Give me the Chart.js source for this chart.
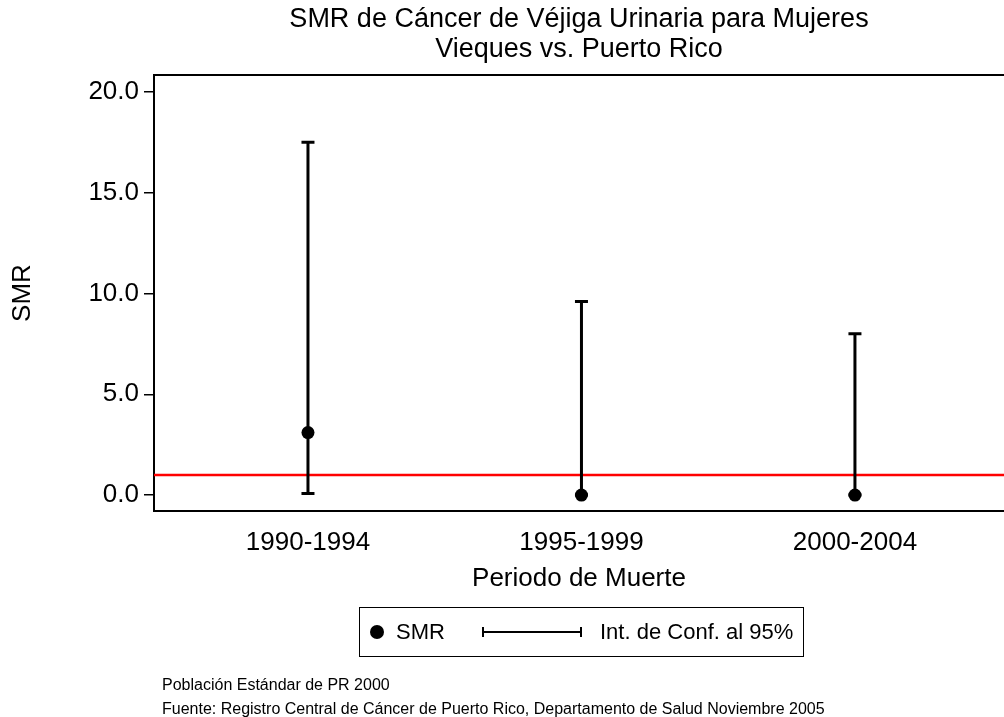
<!DOCTYPE html>
<html>
<head>
<meta charset="utf-8">
<title>SMR de Cáncer de Véjiga Urinaria para Mujeres</title>
<script src="https://cdn.jsdelivr.net/npm/chart.js@4.4.0/dist/chart.umd.min.js"></script>
<style>
  html, body { margin: 0; padding: 0; background: #fff; overflow: hidden; }
  #wrap { position: relative; width: 1004px; height: 717px; font-family: "Liberation Sans", Arial, sans-serif; color: #000; }
  #chart { position: absolute; left: 0; top: 0; }
  .legend { position: absolute; left: 359px; top: 607px; width: 445px; height: 50px; border: 1px solid #000; box-sizing: border-box; font-size: 22px; }
  .legend .dot { position: absolute; left: 10px; top: 17px; width: 14px; height: 14px; border-radius: 50%; background: #000; }
  .legend .txt { position: absolute; top: 0; line-height: 48px; white-space: nowrap; }
  .legend .bar { position: absolute; left: 122px; top: 23px; width: 100px; height: 2px; background: #000; }
  .legend .cap { position: absolute; top: 19px; width: 2px; height: 10px; background: #000; }
  .note { position: absolute; left: 162px; font-size: 16px; line-height: 20px; white-space: nowrap; }
</style>
</head>
<body>
<div id="wrap">
  <canvas id="chart" width="1004" height="717"></canvas>
  <div class="legend">
    <span class="dot"></span>
    <span class="txt" style="left:36px">SMR</span>
    <span class="bar"></span>
    <span class="cap" style="left:122px"></span>
    <span class="cap" style="left:220px"></span>
    <span class="txt" style="left:240px">Int. de Conf. al 95%</span>
  </div>
  <div class="note" style="top:675px">Población Estándar de PR 2000</div>
  <div class="note" style="top:699px">Fuente: Registro Central de Cáncer de Puerto Rico, Departamento de Salud Noviembre 2005</div>
</div>
<script>
  // periods of death and the SMR with its 95% confidence interval
  const PERIODS = ['1990-1994', '1995-1999', '2000-2004'];
  const SMR = [3.1, 0, 0];
  const CI_LOW = [0.08, 0, 0];
  const CI_HIGH = [17.5, 9.6, 8.0];
  const REF_SMR = 1;
  const Y_TICKS = [0, 5, 10, 15, 20];

  const X_MIN = 0.437, X_MAX = 3.545;
  const Y_MIN = -0.79, Y_MAX = 20.84;

  Chart.defaults.font.family = '"Liberation Sans", Arial, sans-serif';
  Chart.defaults.color = '#000';

  // vertical CI lines with caps, drawn on the chart scales
  const errorBars = {
    id: 'errorBars',
    afterDatasetsDraw(chart) {
      const { ctx, scales: { x, y } } = chart;
      ctx.save();
      ctx.strokeStyle = '#000';
      ctx.lineWidth = 3;
      CI_LOW.forEach((lo, i) => {
        const px = x.getPixelForValue(i + 1);
        const yLo = y.getPixelForValue(lo);
        const yHi = y.getPixelForValue(CI_HIGH[i]);
        ctx.beginPath();
        ctx.moveTo(px, yLo); ctx.lineTo(px, yHi);
        ctx.moveTo(px - 6.5, yHi); ctx.lineTo(px + 6.5, yHi);
        ctx.moveTo(px - 6.5, yLo); ctx.lineTo(px + 6.5, yLo);
        ctx.stroke();
      });
      ctx.restore();
    }
  };

  // top edge of the plot frame
  const topFrame = {
    id: 'topFrame',
    afterDraw(chart) {
      const { ctx, chartArea: a } = chart;
      ctx.save();
      ctx.strokeStyle = '#000';
      ctx.lineWidth = 2;
      ctx.beginPath();
      ctx.moveTo(a.left - 1, a.top);
      ctx.lineTo(a.right, a.top);
      ctx.stroke();
      ctx.restore();
    }
  };

  new Chart(document.getElementById('chart'), {
    type: 'scatter',
    data: {
      datasets: [
        {
          type: 'line',
          data: [{ x: X_MIN, y: REF_SMR }, { x: X_MAX, y: REF_SMR }],
          borderColor: '#ff0000',
          borderWidth: 2.5,
          pointRadius: 0
        },
        {
          data: PERIODS.map((p, i) => ({ x: i + 1, y: SMR[i] })),
          backgroundColor: '#000',
          borderWidth: 0,
          pointRadius: 6.5
        }
      ]
    },
    options: {
      responsive: false,
      animation: false,
      layout: { autoPadding: false, padding: { left: 0, right: 0, top: 0, bottom: 123 } },
      plugins: {
        legend: { display: false },
        tooltip: { enabled: false },
        title: {
          display: true,
          fullSize: false,
          text: ['SMR de Cáncer de Véjiga Urinaria para Mujeres', 'Vieques vs. Puerto Rico'],
          font: { size: 27, weight: 'normal', lineHeight: 1.08 },
          color: '#000',
          padding: { top: 5.4, bottom: 11.3 }
        }
      },
      scales: {
        x: {
          type: 'linear',
          min: X_MIN,
          max: X_MAX,
          afterBuildTicks(scale) { scale.ticks = PERIODS.map((p, i) => ({ value: i + 1 })); },
          afterFit(scale) {
            scale.height = 83;
            // let the plot run to the right edge of the canvas
            scale.paddingLeft = 0;
            scale.paddingRight = 0;
          },
          ticks: {
            autoSkip: false,
            maxRotation: 0,
            padding: 16,
            font: { size: 26 },
            callback: (v) => PERIODS[v - 1]
          },
          grid: { display: false, drawTicks: false },
          border: { display: true, color: '#000', width: 2 },
          title: {
            display: true,
            text: 'Periodo de Muerte',
            font: { size: 26, lineHeight: 1.2 },
            padding: { top: 0, bottom: 0 }
          }
        },
        y: {
          min: Y_MIN,
          max: Y_MAX,
          afterBuildTicks(scale) { scale.ticks = Y_TICKS.map(v => ({ value: v })); },
          afterFit(scale) { scale.width = 154; },
          ticks: {
            padding: 5,
            font: { size: 26 },
            callback: (v) => v.toFixed(1)
          },
          grid: { drawOnChartArea: false, drawTicks: true, tickLength: 10, color: '#000', lineWidth: 1.5 },
          border: { display: true, color: '#000', width: 2 },
          title: {
            display: true,
            text: 'SMR',
            font: { size: 26, lineHeight: 1.2 },
            padding: { top: 7, bottom: 0 }
          }
        }
      }
    },
    plugins: [errorBars, topFrame]
  });
</script>
</body>
</html>
